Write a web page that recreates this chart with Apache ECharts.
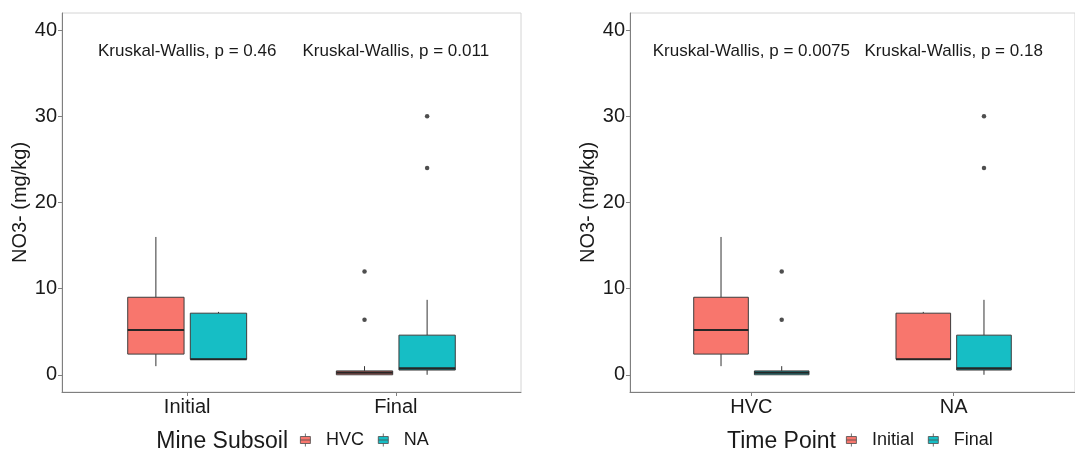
<!DOCTYPE html>
<html>
<head>
<meta charset="utf-8">
<script src="https://cdn.jsdelivr.net/npm/echarts@6/dist/echarts.min.js"></script>
<style>
html,body{margin:0;padding:0;background:#fff;}
#chart{width:1075px;height:450px;}
</style>
</head>
<body>
<div id="chart"></div>
<script>
// ---- data ----
const leftCategories = ['Initial', 'Final'];      // x of left panel (time point)
const rightCategories = ['HVC', 'NA'];            // x of right panel (mine subsoil)
const yTicks = [0, 10, 20, 30, 40];

// five-number summaries: [lower whisker, Q1, median, Q3, upper whisker]
const hvcInitial = [1.0, 2.4, 5.2, 9.0, 16.0];
const naInitial  = [1.75, 1.8, 1.8, 7.15, 7.3];
const hvcFinal   = [0.0, 0.0, 0.25, 0.45, 1.0];
const naFinal    = [0.0, 0.55, 0.75, 4.6, 8.7];
const hvcFinalOutliers = [6.4, 12.0];
const naFinalOutliers  = [24.0, 30.0];

const leftPValues  = ['0.46', '0.011'];
const rightPValues = ['0.0075', '0.18'];
const annotationLevel = 37.6;

// ---- style ----
const FONT = "'Liberation Sans', Arial, sans-serif";
const RED = '#F8766D', TEAL = '#16BEC5';
const DODGE = 0.15, BOX_W = 0.27;
const TXT = '#1a1a1a';
const ICON = 'path://M0,3H10V10H0Z M0,6.5H10 M5,0V3 M5,10V13';

function boxSeries(name, color, axis, side, rows) {
  return {
    type: 'custom', name: name, xAxisIndex: axis, yAxisIndex: axis,
    itemStyle: { color: color }, z: 3, clip: false,
    encode: { x: 0, y: [1, 2, 3, 4, 5] },
    data: rows,
    renderItem: function (params, api) {
      const x = api.value(0) + side * DODGE;
      const lo = api.value(1), q1 = api.value(2), md = api.value(3), q3 = api.value(4), hi = api.value(5);
      const hw = api.size([BOX_W, 0])[0] / 2;
      const pLo = api.coord([x, lo]), pQ1 = api.coord([x, q1]), pMd = api.coord([x, md]),
            pQ3 = api.coord([x, q3]), pHi = api.coord([x, hi]);
      return {
        type: 'group',
        children: [
          { type: 'line', shape: { x1: pLo[0], y1: pLo[1], x2: pQ1[0], y2: pQ1[1] }, style: { stroke: '#333', lineWidth: 1 } },
          { type: 'line', shape: { x1: pQ3[0], y1: pQ3[1], x2: pHi[0], y2: pHi[1] }, style: { stroke: '#333', lineWidth: 1 } },
          { type: 'rect', shape: { x: pQ3[0] - hw, y: pQ3[1], width: 2 * hw, height: Math.max(pQ1[1] - pQ3[1], 0.5) },
            style: { fill: color, stroke: '#3d3d3d', lineWidth: 1 } },
          { type: 'line', shape: { x1: pMd[0] - hw, y1: pMd[1], x2: pMd[0] + hw, y2: pMd[1] }, style: { stroke: '#262626', lineWidth: 2.2 } }
        ]
      };
    }
  };
}

function outlierSeries(axis, points) {
  return {
    type: 'scatter', xAxisIndex: axis, yAxisIndex: axis, symbol: 'circle', symbolSize: 4.5,
    itemStyle: { color: '#222' }, z: 4, silent: true, data: points
  };
}

function annotationSeries(axis, pvals) {
  return {
    type: 'custom', xAxisIndex: axis, yAxisIndex: axis, silent: true, z: 5,
    data: pvals.map(function (p, i) { return [i, annotationLevel]; }),
    renderItem: function (params, api) {
      const pt = api.coord([api.value(0), api.value(1)]);
      return { type: 'text', x: pt[0], y: pt[1],
        style: { text: 'Kruskal-Wallis, p = ' + pvals[params.dataIndex], textAlign: 'center', textVerticalAlign: 'middle',
                 fontSize: 17, fontFamily: FONT, fill: TXT } };
    }
  };
}

function xAxisFor(i, cats) {
  return {
    type: 'value', gridIndex: i, min: -0.6, max: 1.6,
    splitLine: { show: false },
    axisLine: { show: true, onZero: false, lineStyle: { color: '#7f7f7f', width: 1 } },
    axisTick: { show: true, customValues: [0, 1], length: 4, lineStyle: { color: '#7f7f7f' } },
    axisLabel: { customValues: [0, 1], formatter: function (v) { return cats[Math.round(v)]; },
                 fontSize: 20, color: TXT, margin: 5, fontFamily: FONT }
  };
}
function yAxisFor(i) {
  return {
    type: 'value', gridIndex: i, min: -2, max: 42,
    name: 'NO3- (mg/kg)', nameLocation: 'middle', nameGap: 30, nameRotate: 90,
    nameTextStyle: { fontSize: 20, color: TXT, fontFamily: FONT },
    splitLine: { show: false },
    axisLine: { show: true, onZero: false, lineStyle: { color: '#7f7f7f', width: 1 } },
    axisTick: { show: true, customValues: yTicks, length: 4, lineStyle: { color: '#7f7f7f' } },
    axisLabel: { customValues: yTicks, fontSize: 20, color: TXT, margin: 5, fontFamily: FONT }
  };
}

function legendFor(names, left) {
  return {
    data: names.map(function (n) { return { name: n }; }),
    left: left, top: 431, padding: 0, orient: 'horizontal',
    itemWidth: 11, itemHeight: 13, itemGap: 14, icon: ICON, selectedMode: false,
    itemStyle: { borderColor: '#4d4d4d', borderWidth: 0.8 },
    textStyle: { fontSize: 18, color: TXT, fontFamily: FONT, padding: [0, 0, 0, 10] }
  };
}

const chart = echarts.init(document.getElementById('chart'), null, { renderer: 'canvas' });
chart.setOption({
  animation: false,
  backgroundColor: '#fff',
  grid: [
    { left: 62, top: 13, width: 459, height: 379, show: true, borderColor: '#d4d4d4', borderWidth: 1 },
    { left: 630, top: 13, width: 460, height: 379, show: true, borderColor: '#d4d4d4', borderWidth: 1 }
  ],
  xAxis: [xAxisFor(0, leftCategories), xAxisFor(1, rightCategories)],
  yAxis: [yAxisFor(0), yAxisFor(1)],
  legend: [legendFor(['HVC', 'NA'], 300), legendFor(['Initial', 'Final'], 846)],
  graphic: [
    { type: 'text', right: 1075 - 288, top: 430, style: { text: 'Mine Subsoil', fontSize: 23, fontFamily: FONT, fill: TXT } },
    { type: 'text', right: 1075 - 836, top: 430, style: { text: 'Time Point', fontSize: 23, fontFamily: FONT, fill: TXT } }
  ],
  series: [
    // left panel: x = time point, colour = mine subsoil
    boxSeries('HVC', RED, 0, -1, [[0].concat(hvcInitial), [1].concat(hvcFinal)]),
    boxSeries('NA', TEAL, 0, 1, [[0].concat(naInitial), [1].concat(naFinal)]),
    outlierSeries(0, hvcFinalOutliers.map(function (v) { return [1 - DODGE, v]; })
      .concat(naFinalOutliers.map(function (v) { return [1 + DODGE, v]; }))),
    annotationSeries(0, leftPValues),
    // right panel: x = mine subsoil, colour = time point
    boxSeries('Initial', RED, 1, -1, [[0].concat(hvcInitial), [1].concat(naInitial)]),
    boxSeries('Final', TEAL, 1, 1, [[0].concat(hvcFinal), [1].concat(naFinal)]),
    outlierSeries(1, hvcFinalOutliers.map(function (v) { return [0 + DODGE, v]; })
      .concat(naFinalOutliers.map(function (v) { return [1 + DODGE, v]; }))),
    annotationSeries(1, rightPValues)
  ]
});
</script>
</body>
</html>
